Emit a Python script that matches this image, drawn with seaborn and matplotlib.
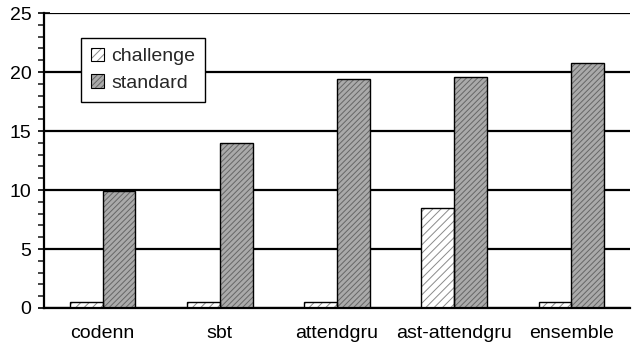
import pandas as pd
import seaborn as sns
import matplotlib.pyplot as plt
from matplotlib.patches import Patch, Rectangle
from matplotlib.ticker import MultipleLocator

# Chart values
models = ['codenn', 'sbt', 'attendgru', 'ast-attendgru', 'ensemble']
challenge = [0.5, 0.5, 0.5, 8.45, 0.5]
standard = [9.9, 14.0, 19.4, 19.6, 20.8]
series = ['challenge', 'standard']

data = pd.DataFrame({
    'model': models * 2,
    'score': challenge + standard,
    'set': ['challenge'] * len(models) + ['standard'] * len(models),
})

sns.set_style('white')
plt.rcParams['font.family'] = ['Liberation Sans', 'DejaVu Sans']
plt.rcParams['hatch.linewidth'] = 0.7

fig = plt.figure(figsize=(6.35, 3.54), dpi=100)
ax = fig.add_axes([0.0693, 0.13, 0.9227, 0.833])

face = {'challenge': 'white', 'standard': '#aaaaaa'}
hatch_col = {'challenge': '#8a8a8a', 'standard': '#666666'}
hatch = {'challenge': '////', 'standard': '//////'}

sns.barplot(data=data, x='model', y='score', hue='set', order=models,
            hue_order=series, width=0.56, gap=0, dodge=True,
            palette=face, legend=False, ax=ax, zorder=3)

# style bars: hatch drawn in gray, black outline drawn on top
for i, name in enumerate(series):
    for p in ax.containers[i]:
        p.set_facecolor(face[name])
        p.set_hatch(hatch[name])
        p.set_edgecolor(hatch_col[name])
        p.set_linewidth(0)
        ax.add_patch(Rectangle(p.get_xy(), p.get_width(), p.get_height(),
                               fill=False, edgecolor='black', linewidth=1.0, zorder=4))

ax.set_xlim(-0.5, len(models) - 0.5)
ax.set_ylim(0, 25)
ax.yaxis.set_major_locator(MultipleLocator(5))
ax.yaxis.set_minor_locator(MultipleLocator(1))
ax.yaxis.grid(True, which='major', color='black', linewidth=1.6, zorder=1)
ax.set_axisbelow(True)
for s in ['top', 'right']:
    ax.spines[s].set_visible(False)
for s in ['left', 'bottom']:
    ax.spines[s].set_color('black')
    ax.spines[s].set_linewidth(1.6)
    ax.spines[s].set_zorder(5)

ax.tick_params(axis='y', which='major', direction='inout', length=8, width=1.2,
               left=True, labelsize=14, pad=5, colors='black')
ax.tick_params(axis='y', which='minor', direction='out', length=4, width=1.2, left=True)
ax.tick_params(axis='x', length=0, labelsize=14, pad=12, colors='black')
ax.set_xlabel('')
ax.set_ylabel('')

handles = []
for name in series:
    h1 = Patch(facecolor=face[name], hatch=hatch[name], edgecolor=hatch_col[name], linewidth=0)
    h2 = Patch(fill=False, edgecolor='black', linewidth=0.8)
    handles.append((h1, h2))
leg = ax.legend(handles, series, loc='upper left', bbox_to_anchor=(0.063, 0.915),
                borderaxespad=0, fontsize=14, frameon=True, fancybox=False,
                handlelength=0.7, handleheight=0.7, handletextpad=0.35,
                borderpad=0.5, labelspacing=0.45, framealpha=1)
leg.get_frame().set_edgecolor('black')
leg.get_frame().set_linewidth(1.0)
leg.set_zorder(6)

plt.savefig('out.png', dpi=100)
